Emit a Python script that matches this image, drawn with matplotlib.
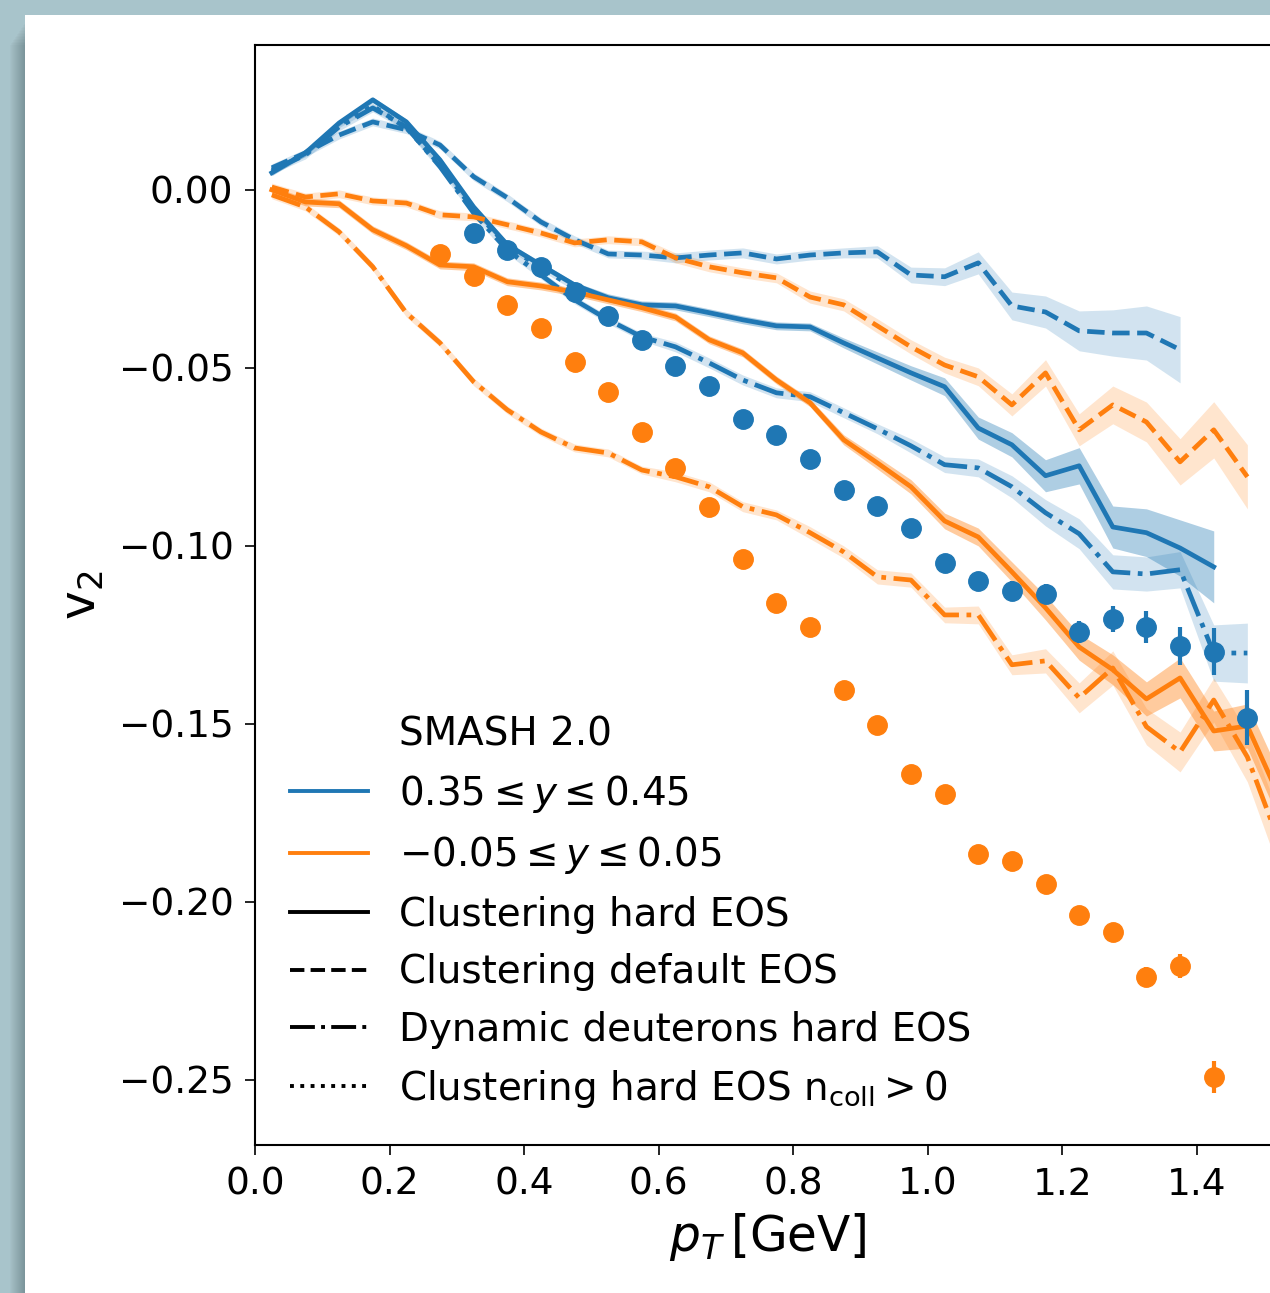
import matplotlib

matplotlib.use("Agg")

import matplotlib.pyplot as plt
import numpy as np
from matplotlib.lines import Line2D
from matplotlib.patches import Rectangle

# pT bin centres (GeV)
PT = [0.025, 0.075, 0.125, 0.175, 0.225, 0.275, 0.325, 0.375, 0.425, 0.475,
      0.525, 0.575, 0.625, 0.675, 0.725, 0.775, 0.825, 0.875, 0.925, 0.975,
      1.025, 1.075, 1.125, 1.175, 1.225, 1.275, 1.325, 1.375, 1.425, 1.475,
      1.525]

# 0.35 <= y <= 0.45
blue_hard = [0.0048, 0.0104, 0.0188, 0.0253, 0.0191, 0.0084, -0.0048, -0.0154, -0.0211, -0.0267,
             -0.0303, -0.0323, -0.0326, -0.0345, -0.0365, -0.0382, -0.0385, -0.0430, -0.0472, -0.0514,
             -0.0553, -0.0669, -0.0716, -0.0803, -0.0775, -0.0947, -0.0963, -0.1006, -0.1059]
blue_hard_err = [0.0008, 0.0008, 0.0008, 0.0008, 0.0008, 0.0008, 0.0008, 0.0008, 0.0008, 0.0008,
                 0.0011, 0.0011, 0.0011, 0.0011, 0.0011, 0.0011, 0.0011, 0.0014, 0.0017, 0.0020,
                 0.0025, 0.0031, 0.0034, 0.0045, 0.0051, 0.0059, 0.0067, 0.0079, 0.0101]
blue_default = [0.0062, 0.0104, 0.0154, 0.0191, 0.0169, 0.0126, 0.0037, -0.0022, -0.0090, -0.0140,
                -0.0180, -0.0183, -0.0191, -0.0183, -0.0177, -0.0194, -0.0183, -0.0177, -0.0174, -0.0239,
                -0.0244, -0.0205, -0.0326, -0.0343, -0.0396, -0.0402, -0.0402, -0.0449]
blue_default_err = [0.0011, 0.0011, 0.0011, 0.0011, 0.0011, 0.0011, 0.0011, 0.0011, 0.0011, 0.0011,
                    0.0011, 0.0011, 0.0014, 0.0014, 0.0014, 0.0014, 0.0014, 0.0014, 0.0017, 0.0022,
                    0.0025, 0.0031, 0.0039, 0.0045, 0.0056, 0.0065, 0.0076, 0.0093]
blue_dyn = [0.0056, 0.0098, 0.0177, 0.0230, 0.0177, 0.0065, -0.0065, -0.0169, -0.0239, -0.0309,
            -0.0365, -0.0413, -0.0441, -0.0486, -0.0534, -0.0570, -0.0581, -0.0626, -0.0671, -0.0719,
            -0.0772, -0.0781, -0.0834, -0.0907, -0.0966, -0.1073, -0.1079, -0.1067, -0.1301, -0.1301]
blue_dyn_err = [0.0011, 0.0011, 0.0011, 0.0011, 0.0011, 0.0011, 0.0011, 0.0011, 0.0011, 0.0011,
                0.0011, 0.0011, 0.0014, 0.0014, 0.0014, 0.0014, 0.0014, 0.0014, 0.0014, 0.0020,
                0.0022, 0.0025, 0.0031, 0.0037, 0.0042, 0.0048, 0.0048, 0.0051, 0.0079, 0.0084]
blue_ncoll = [0.0051, 0.0104, 0.0183, 0.0236, 0.0174, 0.0070, -0.0056, -0.0157, -0.0219, -0.0275,
              -0.0306, -0.0326]
blue_ncoll_err = [0.0008, 0.0008, 0.0008, 0.0008, 0.0008, 0.0008, 0.0008, 0.0008, 0.0008, 0.0008,
                  0.0008, 0.0008]

# -0.05 <= y <= 0.05
orange_hard = [0.0000, -0.0034, -0.0039, -0.0112, -0.0157, -0.0211, -0.0216, -0.0258, -0.0270, -0.0287,
               -0.0309, -0.0331, -0.0357, -0.0421, -0.0458, -0.0534, -0.0598, -0.0702, -0.0767, -0.0834,
               -0.0930, -0.0975, -0.1073, -0.1174, -0.1284, -0.1348, -0.1430, -0.1371, -0.1520, -0.1506,
               -0.1716]
orange_hard_err = [0.0011, 0.0011, 0.0011, 0.0011, 0.0011, 0.0011, 0.0011, 0.0011, 0.0011, 0.0011,
                   0.0011, 0.0011, 0.0011, 0.0011, 0.0011, 0.0011, 0.0011, 0.0014, 0.0017, 0.0020,
                   0.0022, 0.0025, 0.0028, 0.0034, 0.0037, 0.0042, 0.0048, 0.0056, 0.0056, 0.0062,
                   0.0067]
orange_default = [0.0008, -0.0020, -0.0011, -0.0031, -0.0037, -0.0070, -0.0076, -0.0098, -0.0121, -0.0149,
                  -0.0140, -0.0146, -0.0191, -0.0216, -0.0233, -0.0247, -0.0301, -0.0323, -0.0382, -0.0441,
                  -0.0492, -0.0525, -0.0604, -0.0514, -0.0674, -0.0604, -0.0652, -0.0764, -0.0674, -0.0806]
orange_default_err = [0.0011, 0.0011, 0.0011, 0.0011, 0.0011, 0.0011, 0.0011, 0.0011, 0.0011, 0.0011,
                      0.0011, 0.0011, 0.0014, 0.0014, 0.0014, 0.0014, 0.0017, 0.0017, 0.0020, 0.0020,
                      0.0022, 0.0025, 0.0031, 0.0037, 0.0045, 0.0053, 0.0056, 0.0065, 0.0079, 0.0090]
orange_dyn = [-0.0014, -0.0048, -0.0118, -0.0216, -0.0346, -0.0430, -0.0539, -0.0618, -0.0680, -0.0725,
              -0.0739, -0.0787, -0.0806, -0.0834, -0.0890, -0.0913, -0.0963, -0.1017, -0.1087, -0.1096,
              -0.1194, -0.1194, -0.1334, -0.1323, -0.1427, -0.1343, -0.1508, -0.1579, -0.1433, -0.1593,
              -0.1846]
orange_dyn_err = [0.0011, 0.0011, 0.0011, 0.0011, 0.0011, 0.0011, 0.0011, 0.0011, 0.0011, 0.0011,
                  0.0011, 0.0011, 0.0014, 0.0014, 0.0014, 0.0014, 0.0017, 0.0017, 0.0020, 0.0020,
                  0.0022, 0.0025, 0.0028, 0.0034, 0.0042, 0.0048, 0.0051, 0.0056, 0.0062, 0.0070,
                  0.0079]

# measured points
blue_pt = PT[6:30]
blue_data = [-0.0121, -0.0169, -0.0216, -0.0287, -0.0354, -0.0421, -0.0494, -0.0551, -0.0643, -0.0688,
             -0.0756, -0.0843, -0.0888, -0.0949, -0.1048, -0.1098, -0.1126, -0.1135, -0.1242, -0.1205,
             -0.1228, -0.1281, -0.1298, -0.1483]
blue_data_err = [0.0010, 0.0010, 0.0011, 0.0011, 0.0012, 0.0012, 0.0013, 0.0014, 0.0015, 0.0016,
                 0.0017, 0.0018, 0.0019, 0.0021, 0.0022, 0.0024, 0.0026, 0.0028, 0.0031, 0.0037,
                 0.0045, 0.0054, 0.0066, 0.0077]
orange_pt = PT[5:29]
orange_data = [-0.0180, -0.0242, -0.0323, -0.0388, -0.0483, -0.0567, -0.0680, -0.0781, -0.0890, -0.1037,
               -0.1160, -0.1228, -0.1404, -0.1503, -0.1640, -0.1697, -0.1865, -0.1885, -0.1949, -0.2037,
               -0.2084, -0.2211, -0.2180, -0.2492]
orange_data_err = [0.0008, 0.0008, 0.0008, 0.0009, 0.0009, 0.0010, 0.0010, 0.0011, 0.0011, 0.0012,
                   0.0012, 0.0013, 0.0014, 0.0014, 0.0015, 0.0016, 0.0017, 0.0018, 0.0019, 0.0020,
                   0.0022, 0.0028, 0.0034, 0.0045]

BLUE = "#1f77b4"
ORANGE = "#ff7f0e"
LW = 3.4
W, H = 1270, 1293


def band(ax, y, err, color, ls, alpha):
    y = np.asarray(y)
    err = np.asarray(err)
    x = PT[: len(y)]
    ax.fill_between(x, y - err, y + err, color=color, alpha=alpha, lw=0)
    ax.plot(x, y, color=color, ls=ls, lw=LW)


fig = plt.figure(figsize=(W / 100, H / 100), dpi=100, facecolor="#a8c4cb")

# screenshot frame: white page with a soft shadow on its left edge
for i in range(1, 16):
    top = H - 22 - 1.5 * i
    fig.patches.append(Rectangle(((25 - i) / W, 0), i / W, top / H,
                                 transform=fig.transFigure, facecolor="black",
                                 alpha=0.016, lw=0, zorder=-3))
fig.patches.append(Rectangle((25 / W, 0), 1, (H - 15) / H, transform=fig.transFigure,
                             facecolor="white", lw=0, zorder=-2))

ax = fig.add_axes([255 / W, 148 / H, 1026 / W, 1100 / H])

band(ax, blue_hard, blue_hard_err, BLUE, "-", 0.36)
band(ax, blue_default, blue_default_err, BLUE, "--", 0.2)
band(ax, blue_dyn, blue_dyn_err, BLUE, "-.", 0.2)
band(ax, blue_ncoll, blue_ncoll_err, BLUE, ":", 0.2)
band(ax, orange_hard, orange_hard_err, ORANGE, "-", 0.4)
band(ax, orange_default, orange_default_err, ORANGE, "--", 0.2)
band(ax, orange_dyn, orange_dyn_err, ORANGE, "-.", 0.2)

ax.errorbar(blue_pt, blue_data, yerr=blue_data_err, fmt="o", color=BLUE, ms=14,
            elinewidth=3, zorder=5)
ax.errorbar(orange_pt, orange_data, yerr=orange_data_err, fmt="o", color=ORANGE, ms=14,
            elinewidth=3, zorder=5)

ax.set_xlim(0, 1.525)
ax.set_ylim(-0.2683, 0.0407)
ax.set_xticks([0.0, 0.2, 0.4, 0.6, 0.8, 1.0, 1.2, 1.4])
ax.set_yticks([0.0, -0.05, -0.10, -0.15, -0.20, -0.25])
ax.tick_params(labelsize=27, length=7, width=1.2, pad=8.5)
for s in ax.spines.values():
    s.set_linewidth(1.5)
ax.set_xlabel(r"$p_T\,$[GeV]", fontsize=35, labelpad=6)
ax.set_ylabel(r"v$_2$", fontsize=35)
ax.yaxis.set_label_coords(-0.145, 0.5)

handles = [
    Line2D([], [], color="none"),
    Line2D([], [], color=BLUE, lw=2.8),
    Line2D([], [], color=ORANGE, lw=2.8),
    Line2D([], [], color="black", lw=2.8, ls="-"),
    Line2D([], [], color="black", lw=2.8, ls="--"),
    Line2D([], [], color="black", lw=2.8, ls="-."),
    Line2D([], [], color="black", lw=2.8, ls=":"),
]
labels = [
    "SMASH 2.0",
    r"$0.35 \leq y \leq 0.45$",
    r"$-0.05 \leq y \leq 0.05$",
    "Clustering hard EOS",
    "Clustering default EOS",
    "Dynamic deuterons hard EOS",
    r"Clustering hard EOS n$_\mathrm{coll}>0$",
]
ax.legend(handles, labels, loc="lower left", frameon=False, fontsize=28)

fig.savefig("out.png", dpi=100, facecolor=fig.get_facecolor())
plt.close(fig)
